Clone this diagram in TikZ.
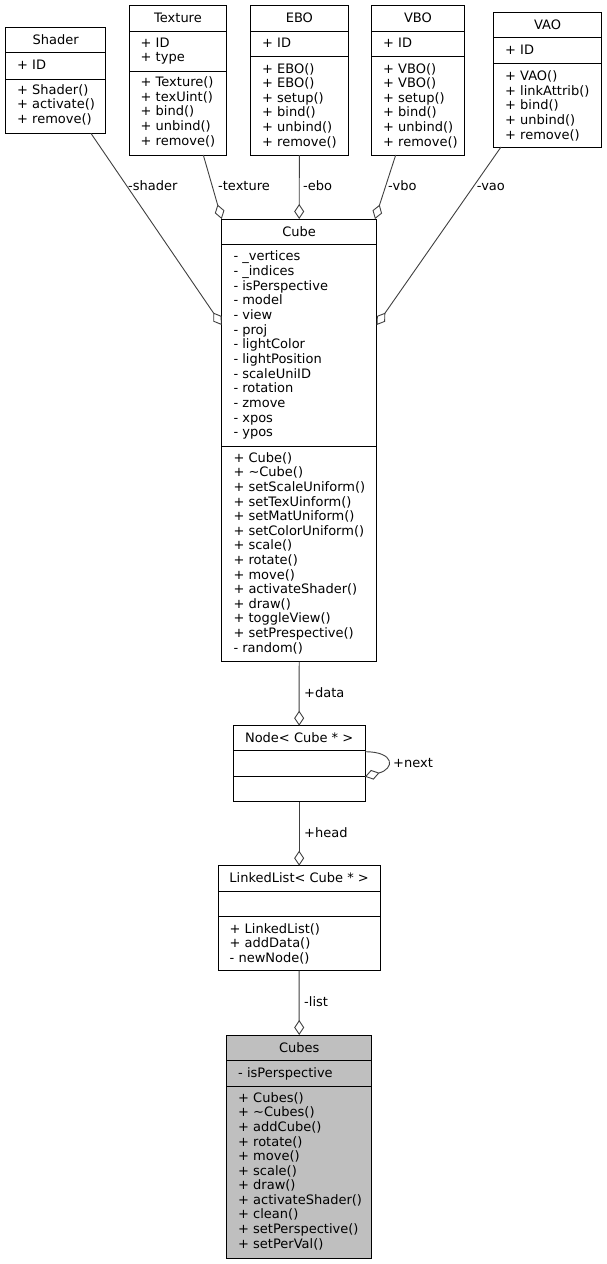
\documentclass[tikz,border=0pt]{standalone}
\usepackage{fontspec}
\setmainfont{DejaVu Sans}
\usetikzlibrary{arrows.meta,calc}
\definecolor{edgecol}{HTML}{404040}
\definecolor{hl}{HTML}{BFBFBF}
\tikzset{
 cls/.style={draw=black, line width=1pt, inner sep=0pt, outer sep=0pt},
 mem/.style={inner sep=0pt, anchor=west, text height=9.4pt, text depth=0pt, font=\fontsize{13}{14.6}\selectfont},
 ttl/.style={mem, anchor=center},
 edge/.style={draw=edgecol, line width=0.9pt, -{Diamond[open, length=15pt, width=10pt, line width=0.9pt]}},
 elab/.style={mem},
}
\newcommand\umlbox[8]{%
  \node[cls, fill=#8, anchor=north west, minimum width={#4-#2}, minimum height={#5-#3}] (#1) at (#2,#3) {};
  \draw[line width=1pt] (#2,#6) -- (#4,#6);
  \draw[line width=1pt] (#2,#7) -- (#4,#7);}
\newcommand\umlrows[5]{%
  \foreach \t [count=\i] in {#5} {\node[mem] (#1\i) at (#2,{#3+(\i-1)*#4}) {\t};}}
\begin{document}
\begin{tikzpicture}[x=1pt,y=-1pt]
\useasboundingbox[fill=white] (0,0) rectangle (606,1264);
% Shader
\umlbox{shader}{5.5}{27.7}{105.7}{133.3}{52.7}{79}{white}
\node[ttl] (shaderT) at ({(5.5+105.7)/2},40.2) {Shader};
\umlrows{shaderA}{17}{64.3}{14.6}{+ ID}
\umlrows{shaderM}{17}{89.3}{14.6}{+ Shader(),+ activate(),+ remove()}
% Texture
\umlbox{texture}{129.3}{5.7}{226.7}{155}{31}{71}{white}
\node[ttl] (textureT) at ({(129.3+226.7)/2},18) {Texture};
\umlrows{textureA}{140.5}{42.3}{14.6}{+ ID,+ type}
\umlrows{textureM}{140.5}{82}{14.6}{+ Texture(),+ texUint(),+ bind(),+ unbind(),+ remove()}
% EBO
\umlbox{ebo}{250.7}{5.7}{348}{155}{31}{56}{white}
\node[ttl] (eboT) at ({(250.7+348)/2},18) {EBO};
\umlrows{eboA}{262}{42.3}{14.6}{+ ID}
\umlrows{eboM}{262}{68.3}{14.6}{+ EBO(),+ EBO(),+ setup(),+ bind(),+ unbind(),+ remove()}
% VBO
\umlbox{vbo}{371.7}{5.7}{464.3}{155}{31}{56}{white}
\node[ttl] (vboT) at ({(371.7+464.3)/2},18) {VBO};
\umlrows{vboA}{383}{42.3}{14.6}{+ ID}
\umlrows{vboM}{383}{68.3}{14.6}{+ VBO(),+ VBO(),+ setup(),+ bind(),+ unbind(),+ remove()}
% VAO
\umlbox{vao}{493.3}{12.7}{601.7}{147}{37.7}{63.3}{white}
\node[ttl] (vaoT) at ({(493.3+601.7)/2},25) {VAO};
\umlrows{vaoA}{505}{50}{14.6}{+ ID}
\umlrows{vaoM}{505}{75.5}{14.8}{+ VAO(),+ linkAttrib(),+ bind(),+ unbind(),+ remove()}
% Cube
\umlbox{cube}{221.7}{219}{376.7}{661.7}{244}{446}{white}
\node[ttl] (cubeT) at ({(221.7+376.7)/2},231.5) {Cube};
\umlrows{cubeA}{233.3}{256.2}{14.65}{- \_vertices,- \_indices,- isPerspective,- model,- view,- proj,- lightColor,- lightPosition,- scaleUniID,- rotation,- zmove,- xpos,- ypos}
\umlrows{cubeM}{233.3}{457.5}{14.6}{+ Cube(),+ \textasciitilde Cube(),+ setScaleUniform(),+ setTexUinform(),+ setMatUniform(),+ setColorUniform(),+ scale(),+ rotate(),+ move(),+ activateShader(),+ draw(),+ toggleView(),+ setPrespective(),- random()}
% Node
\umlbox{nd}{233.3}{725.7}{365}{801.7}{750.7}{776.7}{white}
\node[ttl] (ndT) at ({(233.3+365)/2},738) {Node< Cube * >};
% LinkedList
\umlbox{ll}{218.3}{865.7}{380}{970.7}{891}{916.7}{white}
\node[ttl] (llT) at ({(218.3+380)/2},878) {LinkedList< Cube * >};
\umlrows{llM}{229.5}{928.3}{14.5}{+ LinkedList(),+ addData(),- newNode()}
% Cubes
\umlbox{cubes}{226.7}{1035}{371.7}{1258.3}{1060.7}{1086}{hl}
\node[ttl] (cubesT) at ({(226.7+371.7)/2},1047.5) {Cubes};
\umlrows{cubesA}{238}{1072.3}{14.6}{- isPerspective}
\umlrows{cubesM}{238}{1097.7}{14.56}{+ Cubes(),+ \textasciitilde Cubes(),+ addCube(),+ rotate(),+ move(),+ scale(),+ draw(),+ activateShader(),+ clean(),+ setPerspective(),+ setPerVal()}
% edges
\draw[edge] ([xshift=35.3pt]shader.south) -- ($(cube.north west)+(0,106)$);
\draw[edge] ([xshift=25.3pt]texture.south) -- (cube.north west);
\draw[edge] (ebo.south) -- (cube.north);
\draw[edge] ([xshift=-22.3pt]vbo.south) -- ($(cube.north east)+(-1.7,0)$);
\draw[edge] ([xshift=-46.5pt]vao.south) -- ($(cube.north east)+(0,106)$);
\draw[edge] (cube.south) -- (nd.north);
\draw[edge] ($(nd.north east)+(0,26)$) .. controls +(30,0) and +(30,-8) .. ($(nd.north east)+(0,51)$);
\draw[edge] (nd.south) -- (ll.north);
\draw[edge] (ll.south) -- (cubes.north);
% edge labels
\node[elab] (lshader) at (128,186) {-shader};
\node[elab] (ltexture) at (218,186) {-texture};
\node[elab] (lebo) at (303,186) {-ebo};
\node[elab] (lvbo) at (388,186) {-vbo};
\node[elab] (lvao) at (476.7,186) {-vao};
\node[elab] (ldata) at (304,692.7) {+data};
\node[elab] (lnext) at (393,762.7) {+next};
\node[elab] (lhead) at (304,832.7) {+head};
\node[elab] (llist) at (304,1001.7) {-list};
\end{tikzpicture}
\end{document}
